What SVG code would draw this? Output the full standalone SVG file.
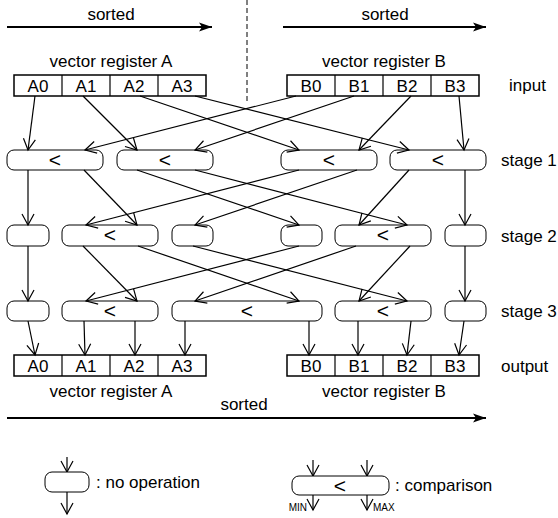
<svg xmlns="http://www.w3.org/2000/svg" width="558" height="518" viewBox="0 0 558 518">
  <style>
    text { font-family: "Liberation Sans", Arial, sans-serif; fill: #000; }
    .lbl { font-size: 17px; }
    .cell { font-size: 17px; text-anchor: middle; }
    .ctr { text-anchor: middle; }
    .op { font-size: 21px; text-anchor: middle; }
    .small { font-size: 10px; }
    .reg { fill: #fff; stroke: #000; stroke-width: 1.5; }
    .div { stroke: #000; stroke-width: 1.2; }
    .box { fill: #fff; stroke: #000; stroke-width: 1; }
    .conn line { stroke: #000; stroke-width: 1.2; fill: none; marker-end: url(#v); }
    .big { stroke: #000; stroke-width: 1.8; fill: none; marker-end: url(#f); }
  </style>
  <defs>
    <marker id="v" markerUnits="userSpaceOnUse" markerWidth="14" markerHeight="14" refX="12" refY="7" orient="auto" viewBox="0 0 14 14">
      <path d="M1,1 L12,7 L1,13" fill="none" stroke="#000" stroke-width="1.2"/>
    </marker>
    <marker id="f" markerUnits="userSpaceOnUse" markerWidth="14" markerHeight="10" refX="13" refY="5" orient="auto" viewBox="0 0 14 10">
      <path d="M0,0.5 L13,5 L0,9.5 L3,5 Z" fill="#000"/>
    </marker>
  </defs>

  <!-- sort direction arrows and split line -->
  <g id="top-sorted">
    <line class="big" x1="7" y1="27" x2="212" y2="27"/>
    <text class="lbl ctr" x="111" y="20">sorted</text>
    <line class="big" x1="283" y1="27" x2="486" y2="27"/>
    <text class="lbl ctr" x="385" y="20">sorted</text>
    <line x1="247" y1="0" x2="247" y2="103" stroke="#000" stroke-width="1" stroke-dasharray="5,3"/>
  </g>

  <!-- input registers -->
  <g id="in-a">
    <text class="lbl ctr" x="111" y="67">vector register A</text>
    <rect class="reg" x="14" y="75" width="192" height="21"/>
    <line class="div" x1="62" y1="75" x2="62" y2="96"/>
    <line class="div" x1="110" y1="75" x2="110" y2="96"/>
    <line class="div" x1="158" y1="75" x2="158" y2="96"/>
    <text class="cell" x="38" y="92">A0</text>
    <text class="cell" x="86" y="92">A1</text>
    <text class="cell" x="134" y="92">A2</text>
    <text class="cell" x="182" y="92">A3</text>
  </g>
  <g id="in-b">
    <text class="lbl ctr" x="384" y="67">vector register B</text>
    <rect class="reg" x="287" y="75" width="192" height="21"/>
    <line class="div" x1="335" y1="75" x2="335" y2="96"/>
    <line class="div" x1="383" y1="75" x2="383" y2="96"/>
    <line class="div" x1="431" y1="75" x2="431" y2="96"/>
    <text class="cell" x="311" y="92">B0</text>
    <text class="cell" x="359" y="92">B1</text>
    <text class="cell" x="407" y="92">B2</text>
    <text class="cell" x="455" y="92">B3</text>
  </g>

  <!-- stage 1 -->
  <g id="s1-0"><rect class="box" x="7" y="150" width="96" height="20" rx="7"/><text class="op" x="55" y="167">&lt;</text></g>
  <g id="s1-1"><rect class="box" x="117" y="150" width="96" height="20" rx="7"/><text class="op" x="165" y="167">&lt;</text></g>
  <g id="s1-2"><rect class="box" x="281" y="150" width="96" height="20" rx="7"/><text class="op" x="329" y="167">&lt;</text></g>
  <g id="s1-3"><rect class="box" x="390" y="150" width="96" height="20" rx="7"/><text class="op" x="438" y="167">&lt;</text></g>

  <!-- stage 2 -->
  <g id="s2-0"><rect class="box" x="7" y="225" width="42" height="21" rx="7"/></g>
  <g id="s2-1"><rect class="box" x="62" y="225" width="96" height="21" rx="7"/><text class="op" x="110" y="242">&lt;</text></g>
  <g id="s2-2"><rect class="box" x="172" y="225" width="41" height="21" rx="7"/></g>
  <g id="s2-3"><rect class="box" x="281" y="225" width="41" height="21" rx="7"/></g>
  <g id="s2-4"><rect class="box" x="335" y="225" width="96" height="21" rx="7"/><text class="op" x="383" y="242">&lt;</text></g>
  <g id="s2-5"><rect class="box" x="445" y="225" width="41" height="21" rx="7"/></g>

  <!-- stage 3 -->
  <g id="s3-0"><rect class="box" x="7" y="301" width="42" height="20" rx="7"/></g>
  <g id="s3-1"><rect class="box" x="62" y="301" width="96" height="20" rx="7"/><text class="op" x="110" y="318">&lt;</text></g>
  <g id="s3-2"><rect class="box" x="172" y="301" width="150" height="20" rx="7"/><text class="op" x="247" y="318">&lt;</text></g>
  <g id="s3-3"><rect class="box" x="335" y="301" width="96" height="20" rx="7"/><text class="op" x="383" y="318">&lt;</text></g>
  <g id="s3-4"><rect class="box" x="445" y="301" width="41" height="20" rx="7"/></g>

  <!-- output registers -->
  <g id="out-a">
    <rect class="reg" x="14" y="355" width="192" height="21"/>
    <line class="div" x1="62" y1="355" x2="62" y2="376"/>
    <line class="div" x1="110" y1="355" x2="110" y2="376"/>
    <line class="div" x1="158" y1="355" x2="158" y2="376"/>
    <text class="cell" x="38" y="372">A0</text>
    <text class="cell" x="86" y="372">A1</text>
    <text class="cell" x="134" y="372">A2</text>
    <text class="cell" x="182" y="372">A3</text>
    <text class="lbl ctr" x="111" y="397">vector register A</text>
  </g>
  <g id="out-b">
    <rect class="reg" x="287" y="355" width="192" height="21"/>
    <line class="div" x1="335" y1="355" x2="335" y2="376"/>
    <line class="div" x1="383" y1="355" x2="383" y2="376"/>
    <line class="div" x1="431" y1="355" x2="431" y2="376"/>
    <text class="cell" x="311" y="372">B0</text>
    <text class="cell" x="359" y="372">B1</text>
    <text class="cell" x="407" y="372">B2</text>
    <text class="cell" x="455" y="372">B3</text>
    <text class="lbl ctr" x="384" y="397">vector register B</text>
  </g>

  <!-- row labels -->
  <g id="row-labels">
    <text class="lbl" x="509" y="91">input</text>
    <text class="lbl" x="501" y="166">stage 1</text>
    <text class="lbl" x="501" y="242">stage 2</text>
    <text class="lbl" x="501" y="317">stage 3</text>
    <text class="lbl" x="501" y="372">output</text>
  </g>

  <!-- overall sort direction -->
  <g id="bottom-sorted">
    <line class="big" x1="7" y1="418" x2="486" y2="418"/>
    <text class="lbl ctr" x="244" y="410">sorted</text>
  </g>

  <!-- connectors -->
  <g id="connectors" class="conn">
    <!-- input to stage 1 -->
    <line x1="35" y1="96" x2="28" y2="150"/>
    <line x1="83" y1="96" x2="137" y2="150"/>
    <line x1="140" y1="96" x2="299" y2="150"/>
    <line x1="195" y1="96" x2="409" y2="150"/>
    <line x1="296" y1="96" x2="85" y2="150"/>
    <line x1="354" y1="96" x2="195" y2="150"/>
    <line x1="411" y1="96" x2="359" y2="150"/>
    <line x1="459" y1="96" x2="464" y2="150"/>
    <!-- stage 1 to stage 2 -->
    <line x1="28" y1="170" x2="28" y2="225"/>
    <line x1="84" y1="170" x2="137" y2="225"/>
    <line x1="137" y1="170" x2="299" y2="225"/>
    <line x1="195" y1="170" x2="407" y2="225"/>
    <line x1="299" y1="170" x2="86" y2="225"/>
    <line x1="357" y1="170" x2="195" y2="225"/>
    <line x1="409" y1="170" x2="359" y2="225"/>
    <line x1="465" y1="170" x2="465" y2="225"/>
    <!-- stage 2 to stage 3 -->
    <line x1="28" y1="246" x2="28" y2="301"/>
    <line x1="83" y1="246" x2="137" y2="301"/>
    <line x1="138" y1="246" x2="299" y2="301"/>
    <line x1="193" y1="246" x2="407" y2="301"/>
    <line x1="299" y1="246" x2="86" y2="301"/>
    <line x1="356" y1="246" x2="195" y2="301"/>
    <line x1="410" y1="246" x2="359" y2="301"/>
    <line x1="465" y1="246" x2="465" y2="301"/>
    <!-- stage 3 to output -->
    <line x1="28" y1="321" x2="35" y2="355"/>
    <line x1="84" y1="321" x2="85" y2="355"/>
    <line x1="135" y1="321" x2="135" y2="355"/>
    <line x1="185" y1="321" x2="185" y2="355"/>
    <line x1="309" y1="321" x2="309" y2="355"/>
    <line x1="358" y1="321" x2="358" y2="355"/>
    <line x1="411" y1="321" x2="407" y2="355"/>
    <line x1="464" y1="321" x2="459" y2="355"/>
    <!-- legend arrows -->
    <line x1="67" y1="457" x2="67" y2="472"/>
    <line x1="67" y1="492" x2="67" y2="514"/>
    <line x1="313" y1="460" x2="313" y2="476"/>
    <line x1="367" y1="460" x2="367" y2="476"/>
    <line x1="313" y1="495" x2="313" y2="510"/>
    <line x1="367" y1="495" x2="367" y2="510"/>
  </g>

  <!-- legend -->
  <g id="legend-nop">
    <rect class="box" x="45" y="472" width="44" height="20" rx="7"/>
    <text class="lbl" x="96" y="488">: no operation</text>
  </g>
  <g id="legend-cmp">
    <rect class="box" x="292" y="476" width="97" height="19" rx="7"/>
    <text class="op" x="340" y="493">&lt;</text>
    <text class="lbl" x="395" y="491">: comparison</text>
    <text class="small" x="307" y="511" text-anchor="end">MIN</text>
    <text class="small" x="373" y="511">MAX</text>
  </g>
</svg>
